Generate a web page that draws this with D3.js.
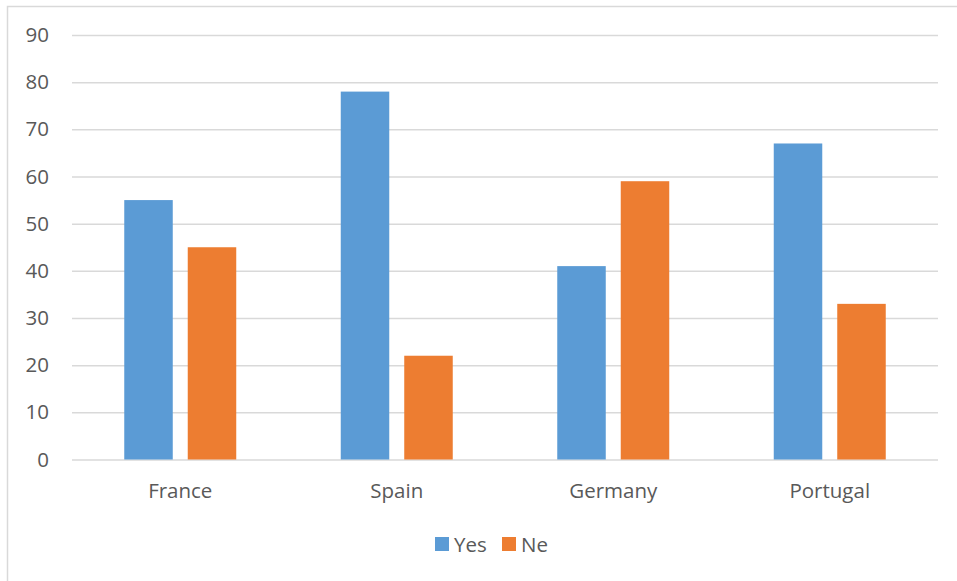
<!DOCTYPE html>
<html>
<head>
<meta charset="utf-8">
<script src="https://cdn.jsdelivr.net/npm/d3@7"></script>
<style>
  body { margin: 0; background: #fff; }
  text { font-family: "Open Sans", sans-serif; fill: #595959; }
</style>
</head>
<body>
<div id="chart"></div>
<script>
// chart values
const countries = ["France", "Spain", "Germany", "Portugal"];
const seriesNames = ["Yes", "Ne"];
const yesValues = [55, 78, 41, 67];
const neValues = [45, 22, 59, 33];
const yTicks = [0, 10, 20, 30, 40, 50, 60, 70, 80, 90];

const colors = { Yes: "#5B9BD5", Ne: "#ED7D31" };

const width = 957, height = 581;
const margin = {top: 35, right: 19, bottom: 121.5, left: 72};

const svg = d3.select("#chart").append("svg")
    .attr("width", width)
    .attr("height", height);

// outer chart border
svg.append("rect")
    .attr("x", 7.5).attr("y", 6.5)
    .attr("width", width + 10).attr("height", height + 10)
    .attr("fill", "none")
    .attr("stroke", "#D9D9D9")
    .attr("stroke-width", 1.5);

const x0 = d3.scaleBand()
    .domain(countries)
    .range([margin.left, width - margin.right]);

const x1 = d3.scaleBand()
    .domain(seriesNames)
    .range([0, x0.bandwidth()])
    .paddingInner(0.236)
    .paddingOuter(0.823);

const y = d3.scaleLinear()
    .domain([0, 90])
    .range([height - margin.bottom, margin.top]);

// gridlines + y labels
const yAxis = svg.append("g")
    .attr("transform", `translate(${margin.left},0)`)
    .call(d3.axisLeft(y).tickValues(yTicks)
        .tickSize(-(width - margin.left - margin.right))
        .tickPadding(23));
yAxis.select(".domain").remove();
yAxis.selectAll("line").attr("stroke", "#D9D9D9").attr("stroke-width", 1.5);
yAxis.selectAll("text").style("font-size", "20.5px").attr("fill", "#595959");

// bars
const rows = countries.map((c, i) => ({country: c, Yes: yesValues[i], Ne: neValues[i]}));

const groups = svg.append("g").selectAll("g")
    .data(rows)
    .join("g")
    .attr("transform", d => `translate(${x0(d.country)},0)`);

groups.selectAll("rect")
    .data(d => seriesNames.map(k => ({key: k, value: d[k]})))
    .join("rect")
    .attr("x", d => x1(d.key))
    .attr("width", x1.bandwidth())
    .attr("y", d => y(d.value))
    .attr("height", d => y(0) - y(d.value))
    .attr("fill", d => colors[d.key]);

// category labels
const xAxis = svg.append("g")
    .attr("transform", `translate(0,${y(0)})`)
    .call(d3.axisBottom(x0).tickSize(0).tickPadding(24));
xAxis.select(".domain").remove();
xAxis.selectAll("text").style("font-size", "20.5px").attr("fill", "#595959");

// legend
const legend = svg.append("g").attr("transform", "translate(435,537)");
const legendX = [0, 67];
seriesNames.forEach((name, i) => {
    const g = legend.append("g").attr("transform", `translate(${legendX[i]},0)`);
    g.append("rect").attr("width", 14).attr("height", 14).attr("fill", colors[name]);
    g.append("text").attr("x", 19).attr("y", 14.5).style("font-size", "20.5px").text(name);
});
</script>
</body>
</html>
